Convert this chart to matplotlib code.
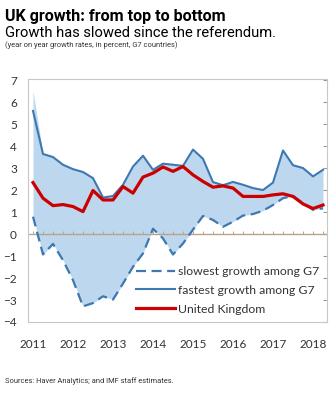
import numpy as np
import matplotlib
matplotlib.use('Agg')
import matplotlib.pyplot as plt

plt.rcParams['font.family'] = ['Lato', 'DejaVu Sans']

# quarterly data, 2011Q1 .. 2018Q2
years = ['2011', '2012', '2013', '2014', '2015', '2016', '2017', '2018']
fastest = [5.6, 3.64, 3.5, 3.15, 2.95, 2.82, 2.54, 1.66, 1.73, 2.24,
           3.07, 3.56, 2.92, 3.2, 3.15, 3.1, 3.84, 3.42, 2.36, 2.22,
           2.37, 2.24, 2.09, 2.0, 2.34, 3.8, 3.13, 3.0, 2.62, 2.92]
band_top = [6.5] + fastest[1:]
slowest = [0.79, -0.93, -0.45, -1.19, -2.1, -3.29, -3.14, -2.83, -2.98, -2.25,
           -1.49, -0.88, 0.24, -0.2, -0.93, -0.43, 0.2, 0.82, 0.64, 0.33,
           0.56, 0.84, 0.91, 1.06, 1.32, 1.63, 1.73, 1.4, 1.1, 1.17]
uk = [2.34, 1.63, 1.29, 1.34, 1.25, 1.02, 1.98, 1.55, 1.55, 2.16,
      1.86, 2.59, 2.77, 3.05, 2.85, 3.07, 2.69, 2.39, 2.13, 2.19,
      2.09, 1.71, 1.71, 1.71, 1.78, 1.83, 1.71, 1.37, 1.16, 1.32]

blue = '#3d78b2'
fig = plt.figure(figsize=(3.35, 4.0), dpi=100)
ax = fig.add_axes([0.0836, 0.195, 0.8925, 0.6075])

q = np.arange(len(uk))
ax.fill_between(q, slowest, band_top, color='#bdd7ee', lw=0)
ax.axhline(0, color='#b8a48c', lw=1)
ax.vlines(q, 0, 0.14, color='#b8a48c', lw=0.7)
ax.plot(q, slowest, color=blue, lw=1.6, dashes=(4.5, 2.5), label='slowest growth among G7')
ax.plot(q, fastest, color=blue, lw=1.5, label='fastest growth among G7')
ax.plot(q, uk, color='#cc0000', lw=2.3, label='United Kingdom')

ax.set_xlim(-0.5, 29.4)
ax.set_ylim(-4, 7.05)
ax.set_yticks(range(-4, 8))
ax.set_xticks(np.arange(0, 29, 4))
ax.set_xticklabels(years)
ax.tick_params(axis='x', length=0, pad=12, labelsize=8.5, colors='#333333')
ax.tick_params(axis='y', left=False, right=True, direction='in', length=3,
               labelsize=8.5, colors='#333333', pad=8, color='#999999')
for s in ax.spines.values():
    s.set_color('#c8c8c8')

ax.legend(loc='lower right', frameon=False, fontsize=8.8, handlelength=3.2,
          handletextpad=0.3, labelspacing=0.65, borderaxespad=0.2,
          bbox_to_anchor=(1.0, 0.0))
leg = ax.get_legend()
for t in leg.get_texts():
    t.set_color('#333333')

fig.text(0.015, 0.978, 'UK growth: from top to bottom', family='Roboto',
         fontweight='bold', fontsize=11.6, va='top')
fig.text(0.015, 0.935, 'Growth has slowed since the referendum.', family='Roboto',
         fontsize=10.6, va='top')
fig.text(0.015, 0.898, '(year on year growth rates, in percent, G7 countries)',
         family='Roboto', fontsize=5.4, va='top', color='#333333')
fig.text(0.015, 0.048, 'Sources: Haver Analytics; and IMF staff estimates.',
         family='Roboto', fontsize=5.4, va='center', color='#333333')

fig.savefig('out.png', dpi=100)
